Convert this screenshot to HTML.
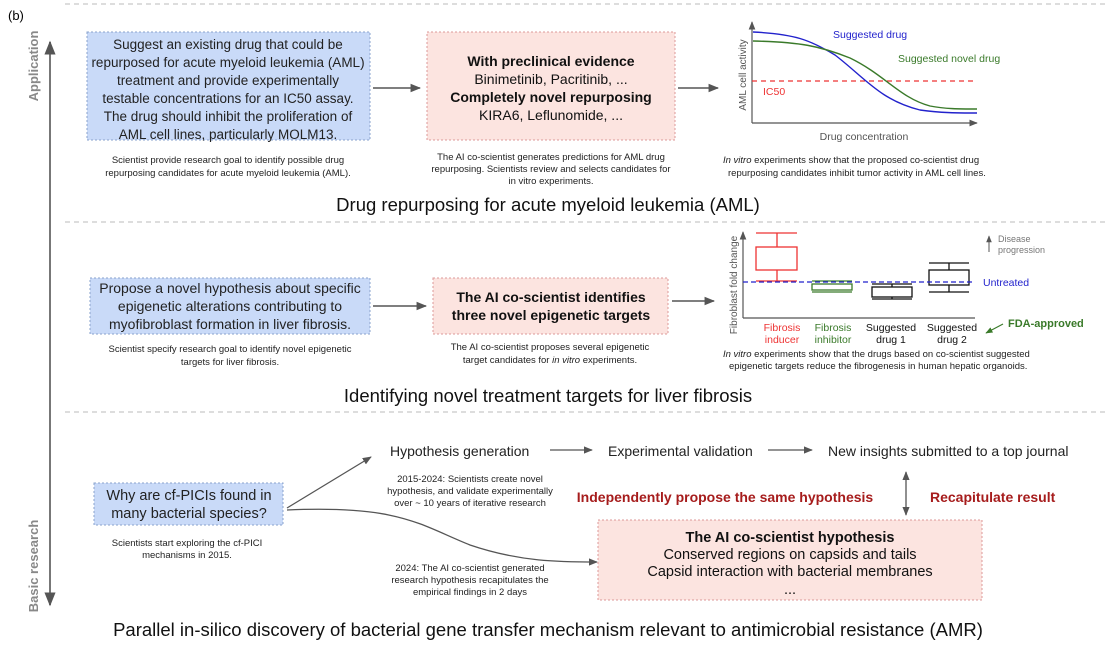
<!DOCTYPE html>
<html><head><meta charset="utf-8"><style>
html,body{margin:0;padding:0;background:#fff;}
svg text{font-family:"Liberation Sans",sans-serif;}
</style></head><body>
<svg width="1107" height="646" viewBox="0 0 1107 646" xmlns="http://www.w3.org/2000/svg">
<defs>
<marker id="a" viewBox="0 0 10 10" refX="9" refY="5" markerWidth="7" markerHeight="7" orient="auto-start-reverse"><path d="M0,1 L10,5 L0,9 z" fill="#555"/></marker>
<marker id="g" viewBox="0 0 10 10" refX="9" refY="5" markerWidth="6" markerHeight="6" orient="auto"><path d="M0,1 L10,5 L0,9 z" fill="#3a7a2a"/></marker>
</defs>
<text x="8" y="20" font-size="13">(b)</text>
<line x1="50" y1="42" x2="50" y2="605" stroke="#777" stroke-width="2" marker-start="url(#a)" marker-end="url(#a)"/>
<text transform="translate(38,66) rotate(-90)" text-anchor="middle" font-size="13" font-weight="bold" fill="#888">Application</text>
<text transform="translate(38,566) rotate(-90)" text-anchor="middle" font-size="13" font-weight="bold" fill="#888">Basic research</text>
<g stroke="#bbb" stroke-dasharray="5,4" stroke-width="1">
<line x1="65" y1="4" x2="1105" y2="4"/><line x1="65" y1="222" x2="1105" y2="222"/><line x1="65" y1="412" x2="1105" y2="412"/>
</g>
<!-- section 1 -->
<rect x="87" y="32" width="283" height="108" fill="#c9daf8" stroke="#8aa3cc" stroke-dasharray="2,2"/>
<g font-size="13.5" text-anchor="middle" fill="#222">
<text x="228" y="49">Suggest an existing drug that could be</text>
<text x="228" y="67">repurposed for acute myeloid leukemia (AML)</text>
<text x="228" y="85">treatment and provide experimentally</text>
<text x="228" y="103">testable concentrations for an IC50 assay.</text>
<text x="228" y="121">The drug should inhibit the proliferation of</text>
<text x="228" y="139">AML cell lines, particularly MOLM13.</text>
</g>
<line x1="373" y1="88" x2="420" y2="88" stroke="#555" stroke-width="1.5" marker-end="url(#a)"/>
<rect x="427" y="32" width="248" height="108" fill="#fce4e0" stroke="#d99" stroke-dasharray="2,2"/>
<g font-size="14" text-anchor="middle" fill="#111">
<text x="551" y="66" font-weight="bold">With preclinical evidence</text>
<text x="551" y="84">Binimetinib, Pacritinib, ...</text>
<text x="551" y="102" font-weight="bold">Completely novel repurposing</text>
<text x="551" y="120">KIRA6, Leflunomide, ...</text>
</g>
<line x1="678" y1="88" x2="718" y2="88" stroke="#555" stroke-width="1.5" marker-end="url(#a)"/>
<line x1="752" y1="123" x2="752" y2="22" stroke="#555" stroke-width="1.2" marker-end="url(#a)"/>
<line x1="752" y1="123" x2="977" y2="123" stroke="#555" stroke-width="1.2" marker-end="url(#a)"/>
<text transform="translate(746,75) rotate(-90)" text-anchor="middle" font-size="10" fill="#555">AML cell activity</text>
<text x="864" y="140" text-anchor="middle" font-size="10.5" fill="#555">Drug concentration</text>
<line x1="752" y1="81" x2="973" y2="81" stroke="#e33" stroke-dasharray="5,4" stroke-width="1.3"/>
<text x="763" y="95" font-size="10.5" fill="#e33">IC50</text>
<path d="M753,32 C795,34 810,40 835,55 C865,78 880,100 920,110 C940,113 960,113 977,113" fill="none" stroke="#2222cc" stroke-width="1.4"/>
<path d="M753,41 C800,42 820,46 850,58 C885,75 900,98 930,106 C945,109 960,109 977,109" fill="none" stroke="#3a7a2a" stroke-width="1.4"/>
<text x="833" y="38" font-size="10.5" fill="#2222cc">Suggested drug</text>
<text x="898" y="62" font-size="10.5" fill="#3a7a2a">Suggested novel drug</text>
<g font-size="9.5" text-anchor="middle" fill="#222">
<text x="228" y="163">Scientist provide research goal to identify possible drug</text>
<text x="228" y="176">repurposing candidates for acute myeloid leukemia (AML).</text>
<text x="551" y="160">The AI co-scientist generates predictions for AML drug</text>
<text x="551" y="172">repurposing. Scientists review and selects candidates for</text>
<text x="551" y="184">in vitro experiments.</text>
</g>
<g font-size="9.5" fill="#222">
<text x="723" y="163"><tspan font-style="italic">In vitro</tspan> experiments show that the proposed co-scientist drug</text>
<text x="728" y="176">repurposing candidates inhibit tumor activity in AML cell lines.</text>
</g>
<text x="548" y="211" text-anchor="middle" font-size="18.5" fill="#111">Drug repurposing for acute myeloid leukemia (AML)</text>
<!-- section 2 -->
<rect x="90" y="278" width="280" height="56" fill="#c9daf8" stroke="#8aa3cc" stroke-dasharray="2,2"/>
<g font-size="14" text-anchor="middle" fill="#222">
<text x="230" y="293">Propose a novel hypothesis about specific</text>
<text x="230" y="311">epigenetic alterations contributing to</text>
<text x="230" y="329">myofibroblast formation in liver fibrosis.</text>
</g>
<line x1="373" y1="306" x2="426" y2="306" stroke="#555" stroke-width="1.5" marker-end="url(#a)"/>
<rect x="433" y="278" width="235" height="56" fill="#fce4e0" stroke="#d99" stroke-dasharray="2,2"/>
<g font-size="14" text-anchor="middle" font-weight="bold" fill="#111">
<text x="551" y="302">The AI co-scientist identifies</text>
<text x="551" y="320">three novel epigenetic targets</text>
</g>
<line x1="672" y1="301" x2="714" y2="301" stroke="#555" stroke-width="1.5" marker-end="url(#a)"/>
<g font-size="9.5" text-anchor="middle" fill="#222">
<text x="230" y="352">Scientist specify research goal to identify novel epigenetic</text>
<text x="230" y="365">targets for liver fibrosis.</text>
<text x="550" y="350">The AI co-scientist proposes several epigenetic</text>
<text x="550" y="363">target candidates for <tspan font-style="italic">in vitro</tspan> experiments.</text>
</g>
<line x1="743" y1="318" x2="743" y2="232" stroke="#555" stroke-width="1.2" marker-end="url(#a)"/>
<line x1="743" y1="318" x2="975" y2="318"  stroke="#555" stroke-width="1.2"/>
<text transform="translate(737,285) rotate(-90)" text-anchor="middle" font-size="10" fill="#555">Fibroblast fold change</text>
<g fill="none" stroke-width="1.3">
<g stroke="#e33"><line x1="756" y1="233" x2="797" y2="233"/><line x1="756" y1="281" x2="797" y2="281"/><line x1="777" y1="233" x2="777" y2="281"/><rect x="756" y="247" width="41" height="23" fill="#fff"/></g>
<g stroke="#3a7a2a"><line x1="812" y1="281" x2="852" y2="281"/><line x1="812" y1="292" x2="852" y2="292"/><rect x="812" y="284" width="40" height="6" fill="#fff"/></g>
<g stroke="#111"><line x1="872" y1="284" x2="912" y2="284"/><line x1="872" y1="299" x2="912" y2="299"/><line x1="892" y1="284" x2="892" y2="299"/><rect x="872" y="287" width="40" height="10" fill="#fff"/>
<line x1="929" y1="263" x2="969" y2="263"/><line x1="929" y1="292" x2="969" y2="292"/><line x1="949" y1="263" x2="949" y2="292"/><rect x="929" y="270" width="40" height="15" fill="#fff"/></g>
</g>
<line x1="743" y1="282" x2="975" y2="282" stroke="#2222cc" stroke-dasharray="5,3" stroke-width="1.3"/>
<text x="983" y="286" font-size="10.5" fill="#2222cc">Untreated</text>
<line x1="989" y1="252" x2="989" y2="236" stroke="#555" stroke-width="1" marker-end="url(#a)"/>
<text x="998" y="242" font-size="9" fill="#777">Disease</text>
<text x="998" y="253" font-size="9" fill="#777">progression</text>
<g font-size="10.5" text-anchor="middle">
<text x="782" y="331" fill="#e33">Fibrosis</text><text x="782" y="343" fill="#e33">inducer</text>
<text x="833" y="331" fill="#3a7a2a">Fibrosis</text><text x="833" y="343" fill="#3a7a2a">inhibitor</text>
<text x="891" y="331" fill="#111">Suggested</text><text x="891" y="343" fill="#111">drug 1</text>
<text x="952" y="331" fill="#111">Suggested</text><text x="952" y="343" fill="#111">drug 2</text>
</g>
<text x="1008" y="327" font-size="11" font-weight="bold" fill="#3a7a2a">FDA-approved</text>
<line x1="1003" y1="324" x2="986" y2="333" stroke="#3a7a2a" stroke-width="1.2" marker-end="url(#g)"/>
<g font-size="9.5" fill="#222">
<text x="723" y="357"><tspan font-style="italic">In vitro</tspan> experiments show that the drugs based on co-scientist suggested</text>
<text x="729" y="369">epigenetic targets reduce the fibrogenesis in human hepatic organoids.</text>
</g>
<text x="548" y="402" text-anchor="middle" font-size="18.5" fill="#111">Identifying novel treatment targets for liver fibrosis</text>
<!-- section 3 -->
<rect x="94" y="483" width="189" height="42" fill="#c9daf8" stroke="#8aa3cc" stroke-dasharray="2,2"/>
<g font-size="14.5" text-anchor="middle" fill="#222">
<text x="189" y="500">Why are cf-PICIs found in</text>
<text x="189" y="518">many bacterial species?</text>
</g>
<g font-size="9.5" text-anchor="middle" fill="#222">
<text x="187" y="546">Scientists start exploring the cf-PICI</text>
<text x="187" y="558">mechanisms in 2015.</text>
<text x="470" y="482">2015-2024: Scientists create novel</text>
<text x="470" y="494">hypothesis, and validate experimentally</text>
<text x="470" y="506">over ~ 10 years of iterative research</text>
<text x="470" y="571">2024: The AI co-scientist generated</text>
<text x="470" y="583">research  hypothesis recapitulates the</text>
<text x="470" y="595">empirical findings in 2 days</text>
</g>
<line x1="287" y1="508" x2="371" y2="457" stroke="#555" stroke-width="1.3" marker-end="url(#a)"/>
<path d="M287,510 C400,505 420,525 470,545 C520,562 560,562 597,562" fill="none" stroke="#555" stroke-width="1.3" marker-end="url(#a)"/>
<g font-size="14" fill="#222">
<text x="390" y="456">Hypothesis generation</text>
<text x="608" y="456">Experimental validation</text>
<text x="828" y="456">New insights submitted to a top journal</text>
</g>
<line x1="550" y1="450" x2="592" y2="450" stroke="#555" stroke-width="1.3" marker-end="url(#a)"/>
<line x1="768" y1="450" x2="812" y2="450" stroke="#555" stroke-width="1.3" marker-end="url(#a)"/>
<text x="725" y="502" text-anchor="middle" font-size="14" font-weight="bold" fill="#a61c1c">Independently propose the same hypothesis</text>
<text x="930" y="502" font-size="14" font-weight="bold" fill="#a61c1c">Recapitulate result</text>
<line x1="906" y1="472" x2="906" y2="515" stroke="#555" stroke-width="1.3" marker-start="url(#a)" marker-end="url(#a)"/>
<rect x="598" y="520" width="384" height="80" fill="#fce4e0" stroke="#d99" stroke-dasharray="2,2"/>
<g font-size="14.5" text-anchor="middle" fill="#111">
<text x="790" y="542" font-weight="bold">The AI co-scientist hypothesis</text>
<text x="790" y="559">Conserved regions on capsids and tails</text>
<text x="790" y="576">Capsid interaction with bacterial membranes</text>
<text x="790" y="594">...</text>
</g>
<text x="548" y="636" text-anchor="middle" font-size="18.5" fill="#111">Parallel in-silico discovery of bacterial gene transfer mechanism relevant to antimicrobial resistance (AMR)</text>
</svg>
</body></html>
